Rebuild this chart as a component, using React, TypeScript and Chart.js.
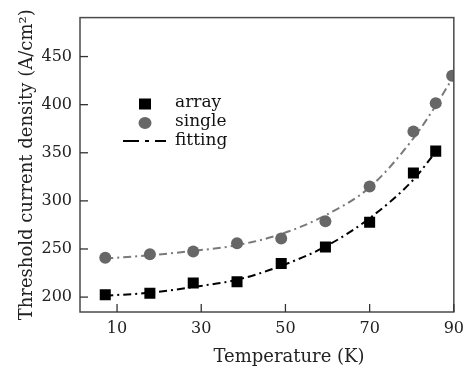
import React, { useEffect, useRef } from "react";
import { Chart, registerables } from "chart.js";
Chart.register(...registerables);

const arrayTemps = [7.2, 17.8, 28.1, 38.5, 49.0, 59.5, 70.0, 80.4, 85.7];
const arrayValues = [202.4, 204, 214.6, 216, 234.8, 252, 277.7, 329, 351.7];
const singleTemps = [7.2, 17.8, 28.1, 38.5, 49.0, 59.5, 70.0, 80.4, 85.7, 89.6];
const singleValues = [241, 244.6, 247.3, 256, 260.8, 278.7, 314.9, 372.2, 401.6, 430];
const arrayFitTemps = [7.2, 17.8, 28.1, 38.5, 49.0, 59.5, 70.0, 80.4, 85.7];
const arrayFitValues = [201.5, 204.5, 210.5, 218, 232.5, 252.5, 282, 322, 351];
const singleFitTemps = [7.2, 17.8, 28.1, 38.5, 49.0, 59.5, 70.0, 80.4, 85.7, 90];
const singleFitValues = [240, 243.5, 248, 254, 265.5, 285, 314, 365, 399, 430];
const xTicks = [10, 30, 50, 70, 90];
const yTicks = [200, 250, 300, 350, 400, 450];
const legendLabels = ["array", "single", "fitting"];
const xTitle = "Temperature (K)";
const yTitle = "Threshold current density (A/cm²)";

const FONT = "'DejaVu Serif', serif";
const GRAY_MARK = "#676767";
const GRAY_LINE = "#7a7a7a";

const pts = (xs: number[], ys: number[]) => ys.map((y, i) => ({ x: xs[i], y }));

const framePlugin = {
  id: "frameTicksLegend",
  afterDatasetsDraw(chart: any) {
    const { ctx, chartArea: a, scales } = chart;
    const xs = scales.x;
    const ys = scales.y;
    ctx.save();
    // frame
    ctx.strokeStyle = "#4a4a4a";
    ctx.lineWidth = 1.5;
    ctx.setLineDash([]);
    ctx.strokeRect(a.left, a.top, a.right - a.left, a.bottom - a.top);
    // inward ticks
    ctx.strokeStyle = "#333";
    ctx.lineWidth = 1.3;
    const tl = 8;
    xTicks.forEach((v) => {
      const px = xs.getPixelForValue(v);
      ctx.beginPath();
      ctx.moveTo(px, a.bottom);
      ctx.lineTo(px, a.bottom - tl);
      ctx.stroke();
    });
    yTicks.forEach((v) => {
      const py = ys.getPixelForValue(v);
      ctx.beginPath();
      ctx.moveTo(a.left, py);
      ctx.lineTo(a.left + tl, py);
      ctx.stroke();
    });
    // x-axis title (offset right as in the source figure)
    ctx.fillStyle = "#222";
    ctx.font = `18px ${FONT}`;
    ctx.textAlign = "center";
    ctx.textBaseline = "middle";
    ctx.fillText(xTitle, 289, 357);
    // legend
    const mx = 145;
    const rows = [104, 123, 141];
    ctx.fillStyle = "#000";
    ctx.fillRect(mx - 6, rows[0] - 5.5, 12, 11);
    ctx.fillStyle = GRAY_MARK;
    ctx.beginPath();
    ctx.ellipse(mx, rows[1], 6.5, 6, 0, 0, Math.PI * 2);
    ctx.fill();
    ctx.strokeStyle = "#000";
    ctx.lineWidth = 2;
    ctx.setLineDash([16, 6, 4, 6]);
    ctx.beginPath();
    ctx.moveTo(123, rows[2]);
    ctx.lineTo(166, rows[2]);
    ctx.stroke();
    ctx.setLineDash([]);
    ctx.fillStyle = "#111";
    ctx.font = `17px ${FONT}`;
    ctx.textBaseline = "alphabetic";
    ctx.textAlign = "left";
    const baselines = [107, 126, 145];
    legendLabels.forEach((t, i) => ctx.fillText(t, 175, baselines[i]));
    ctx.restore();
  },
};

export default function App() {
  const ref = useRef<HTMLCanvasElement | null>(null);
  useEffect(() => {
    if (!ref.current) return;
    Chart.defaults.font.family = FONT;
    const chart = new Chart(ref.current, {
      type: "scatter",
      data: {
        datasets: [
          {
            label: "array",
            data: pts(arrayTemps, arrayValues),
            pointStyle: "rect",
            pointRadius: 7.8,
            backgroundColor: "#000",
            borderColor: "#000",
            borderWidth: 0,
            order: 0,
          },
          {
            label: "single",
            data: pts(singleTemps, singleValues),
            pointStyle: "circle",
            pointRadius: 6,
            backgroundColor: GRAY_MARK,
            borderColor: GRAY_MARK,
            borderWidth: 0,
            clip: 0,
            order: 1,
          },
          {
            label: "array fit",
            data: pts(arrayFitTemps, arrayFitValues),
            showLine: true,
            pointRadius: 0,
            borderColor: "#000",
            borderWidth: 2,
            borderDash: [8, 4, 2, 4],
            cubicInterpolationMode: "monotone",
            clip: 0,
            order: 2,
          },
          {
            label: "single fit",
            data: pts(singleFitTemps, singleFitValues),
            showLine: true,
            pointRadius: 0,
            borderColor: GRAY_LINE,
            borderWidth: 2,
            borderDash: [8, 4, 2, 4],
            cubicInterpolationMode: "monotone",
            clip: 0,
            order: 3,
          },
        ] as any,
      },
      options: {
        animation: false,
        responsive: false,
        devicePixelRatio: 1,
        layout: { padding: { top: 10, right: 12, left: 0, bottom: 0 } },
        plugins: { legend: { display: false }, tooltip: { enabled: false } },
        scales: {
          x: {
            type: "linear",
            min: 1.2,
            max: 90,
            afterBuildTicks: (s: any) => {
              s.ticks = xTicks.map((v) => ({ value: v }));
            },
            afterFit: (s: any) => {
              s.height = 59;
            },
            grid: { display: false, drawTicks: false },
            border: { display: false },
            ticks: { color: "#222", font: { size: 16, family: FONT }, padding: 7, maxRotation: 0 },
            title: { display: false },
          },
          y: {
            type: "linear",
            min: 184.5,
            max: 490.5,
            afterBuildTicks: (s: any) => {
              s.ticks = yTicks.map((v) => ({ value: v }));
            },
            afterFit: (s: any) => {
              s.width = 80;
            },
            grid: { display: false, drawTicks: false },
            border: { display: false },
            ticks: { color: "#222", font: { size: 16, family: FONT }, padding: 8 },
            title: {
              display: true,
              text: yTitle,
              color: "#222",
              font: { size: 18, family: FONT },
              padding: { top: 17, bottom: 0 },
            },
          },
        },
      } as any,
      plugins: [framePlugin],
    });
    return () => chart.destroy();
  }, []);
  return (
    <div style={{ position: "fixed", left: 0, top: 0, width: 471, height: 371, background: "#fff" }}>
      <canvas ref={ref} width={471} height={371} style={{ width: 471, height: 371, display: "block" }} />
    </div>
  );
}
